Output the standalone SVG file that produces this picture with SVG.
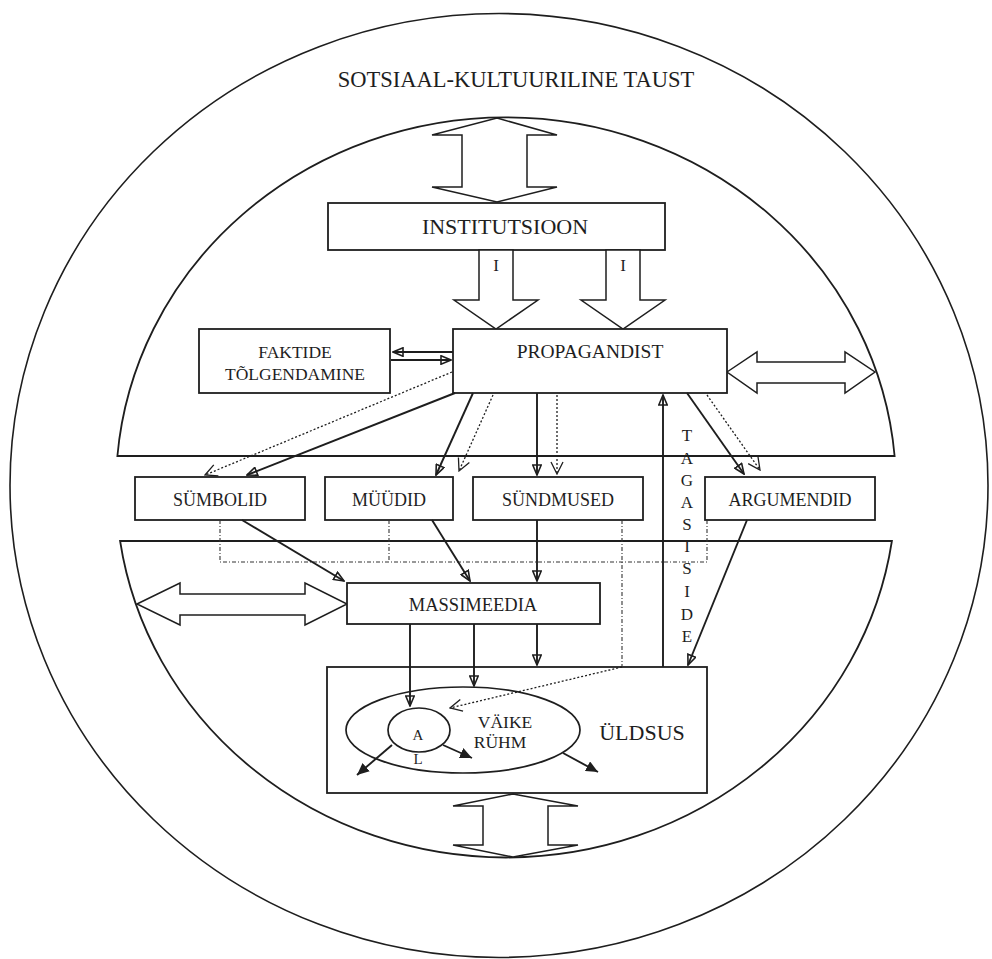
<svg xmlns="http://www.w3.org/2000/svg" width="992" height="959" viewBox="0 0 992 959">
<style>
text{font-family:"Liberation Serif","Times New Roman",serif;fill:#1e1e1e;text-anchor:middle}
.box{fill:#fff;stroke:#1e1e1e;stroke-width:1.8}
.ring{fill:none;stroke:#1e1e1e;stroke-width:1.6}
.cap{fill:none;stroke:#1e1e1e;stroke-width:1.8}
.big{fill:#fff;stroke:#1e1e1e;stroke-width:1.5;stroke-linejoin:miter}
.sol{fill:none;stroke:#1e1e1e;stroke-width:1.9;marker-end:url(#ah)}
.dot{fill:none;stroke:#1e1e1e;stroke-width:1.3;stroke-dasharray:2 2;marker-end:url(#ov)}
.dash{fill:none;stroke:#333;stroke-width:1.1;stroke-dasharray:4 2 1 2}
.sm{fill:none;stroke:#1e1e1e;stroke-width:1.9;marker-end:url(#fa)}
</style>
<defs>
<marker id="ah" markerUnits="userSpaceOnUse" viewBox="0 0 12 10" refX="11" refY="5" markerWidth="12" markerHeight="10" orient="auto">
<path d="M1,0.8 L11,5 L1,9.2 Z" fill="none" stroke="#1e1e1e" stroke-width="1.6"/>
</marker>
<marker id="ov" markerUnits="userSpaceOnUse" viewBox="0 0 14 14" refX="13" refY="7" markerWidth="14" markerHeight="14" orient="auto">
<path d="M1,1 L13,7 L1,13" fill="none" stroke="#1e1e1e" stroke-width="1.3"/>
</marker>
<marker id="fa" markerUnits="userSpaceOnUse" viewBox="0 0 13 11" refX="12" refY="5.5" markerWidth="13" markerHeight="11" orient="auto">
<path d="M0,0 L12,5.5 L0,11 Z" fill="#1e1e1e"/>
</marker>
</defs>
<rect width="992" height="959" fill="#fff"/>

<g id="background">
<ellipse class="ring" cx="499" cy="485.5" rx="489" ry="472"/>
<text x="516" y="87" font-size="22.5">SOTSIAAL-KULTUURILINE TAUST</text>
<path class="cap" d="M117.4,456 A390,370 0 0 1 894.6,456 Z"/>
<path class="cap" d="M120.1,541 A390,370 0 0 0 891.9,541 Z"/>
</g>

<g id="exchange-arrows">
<polygon class="big" points="497,118 557,135 527,135 527,187 557,187 497,202 432,187 462,187 462,135 432,135"/>
<polygon class="big" points="727,372 757,352 757,362 845,362 845,352 875,372 845,393 845,383 757,383 757,393"/>
<polygon class="big" points="137,604 180,583 180,594 305,594 305,583 347,604 305,625 305,615 180,615 180,625"/>
<polygon class="big" points="513,794 578,806 548,806 548,845 578,845 513,857 453,845 483,845 483,806 453,806"/>
</g>

<g id="node-institutsioon">
<rect class="box" x="328" y="203" width="337" height="47"/>
<text x="505" y="234" font-size="22">INSTITUTSIOON</text>
</g>

<g id="influence-arrows">
<polygon class="big" points="479,250 513,250 513,300 538,300 496,329 454,300 479,300"/>
<text x="496" y="271" font-size="17">I</text>
<polygon class="big" points="606,250 640,250 640,300 665,300 623,329 581,300 606,300"/>
<text x="623" y="271" font-size="17">I</text>
</g>

<g id="node-faktide">
<rect class="box" x="199" y="329" width="191" height="64"/>
<text x="295" y="358" font-size="17.5">FAKTIDE</text>
<text x="295" y="379.5" font-size="17.5">TÕLGENDAMINE</text>
</g>

<g id="node-propagandist">
<rect class="box" x="453" y="329" width="274" height="64"/>
<text x="590" y="358" font-size="19.5">PROPAGANDIST</text>
</g>

<g id="node-symbolid">
<rect class="box" x="135" y="477" width="170" height="43"/>
<text x="220" y="506" font-size="18">SÜMBOLID</text>
</g>
<g id="node-muudid">
<rect class="box" x="325" y="477" width="128" height="43"/>
<text x="389" y="506" font-size="18">MÜÜDID</text>
</g>
<g id="node-sundmused">
<rect class="box" x="473" y="477" width="170" height="43"/>
<text x="558" y="506" font-size="18">SÜNDMUSED</text>
</g>
<g id="node-argumendid">
<rect class="box" x="705" y="477" width="170" height="43"/>
<text x="790" y="506" font-size="18">ARGUMENDID</text>
</g>

<g id="node-massimeedia">
<rect class="box" x="347" y="583" width="253" height="41"/>
<text x="473" y="611" font-size="18.5">MASSIMEEDIA</text>
</g>

<g id="node-uldsus">
<rect class="box" x="327" y="667" width="380" height="126"/>
<text x="642" y="740" font-size="22">ÜLDSUS</text>
</g>

<g id="node-vaike-ruhm">
<ellipse fill="none" stroke="#1e1e1e" stroke-width="1.7" cx="463" cy="730" rx="117" ry="43"/>
<text x="505" y="728" font-size="17.5">VÄIKE</text>
<text x="500" y="748" font-size="17.5">RÜHM</text>
</g>

<g id="node-al">
<ellipse fill="none" stroke="#1e1e1e" stroke-width="1.7" cx="419" cy="730" rx="31" ry="22"/>
<text x="418" y="740" font-size="15">A</text>
<text x="418" y="764" font-size="15">L</text>
</g>

<g id="tagasiside-label">
<text x="687" y="441" font-size="17">T</text>
<text x="687" y="464" font-size="17">A</text>
<text x="687" y="486" font-size="17">G</text>
<text x="687" y="508" font-size="17">A</text>
<text x="687" y="530" font-size="17">S</text>
<text x="687" y="552" font-size="17">I</text>
<text x="687" y="574" font-size="17">S</text>
<text x="687" y="597" font-size="17">I</text>
<text x="687" y="620" font-size="17">D</text>
<text x="687" y="642" font-size="17">E</text>
</g>

<g id="connectors">
<path class="sol" d="M453,352 L393,352"/>
<path class="sol" d="M391,360 L451,360"/>
<path class="dot" d="M452,372 L205,475"/>
<path class="sol" d="M455,393 L247,475"/>
<path class="sol" d="M473,393 L436,475"/>
<path class="dot" d="M493,395 L459,471"/>
<path class="sol" d="M537,393 L537,475"/>
<path class="dot" d="M557,395 L557,474"/>
<path class="sol" d="M687,393 L744,474"/>
<path class="dot" d="M707,395 L760,470"/>
<path class="sol" d="M663,667 L663,395"/>
<path class="dash" d="M220,520 L220,562 L707,562 L707,520 M389,520 L389,562 M622,520 L622,667"/>
<path class="dot" d="M622,667 L450,708"/>
<path class="sol" d="M242,520 L344,581"/>
<path class="sol" d="M432,520 L470,581"/>
<path class="sol" d="M537,520 L537,581"/>
<path class="sol" d="M747,520 L688,665"/>
<path class="sol" d="M410,624 L410,706"/>
<path class="sol" d="M474,624 L474,686"/>
<path class="sol" d="M537,624 L537,665"/>
<path class="sm" d="M392,745 L357,775"/>
<path class="sm" d="M443,745 L472,758"/>
<path class="sm" d="M563,753 L598,772"/>
</g>
</svg>
